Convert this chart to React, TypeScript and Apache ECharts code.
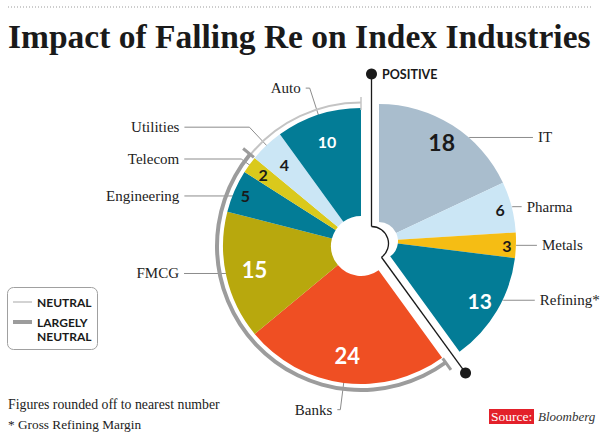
import React, { useEffect, useRef } from 'react';
import * as echarts from 'echarts';

// ---- data ----
const rightCats = ['IT', 'Pharma', 'Metals', 'Refining'];
const rightVals = [18, 6, 3, 13];
const leftCats = ['Banks', 'FMCG', 'Engineering', 'Telecom', 'Utilities', 'Auto'];
const leftVals = [24, 15, 5, 2, 4, 10];
const largelyNeutralCats = ['Banks', 'FMCG', 'Engineering', 'Telecom'];
const neutralCats = ['Utilities', 'Auto'];
const displayNames: Record<string, string> = { Refining: 'Refining*' };

// ---- styles ----
const COLORS: Record<string, string> = {
  IT: '#a9bdcd',
  Pharma: '#cbe6f5',
  Metals: '#f5bd14',
  Refining: '#037c96',
  Banks: '#ef4f23',
  FMCG: '#b8a80d',
  Engineering: '#037c96',
  Telecom: '#dac91c',
  Utilities: '#cbe6f5',
  Auto: '#037c96',
};
// number label: [fontSize, color, radius]
const NUM_STYLE: Record<string, [number, string, number]> = {
  IT: [23, '#1a1a1a', 114],
  Pharma: [16, '#1a1a1a', 122],
  Metals: [16, '#1a1a1a', 125],
  Refining: [21, '#ffffff', 114],
  Banks: [22, '#ffffff', 107],
  FMCG: [22, '#ffffff', 106],
  Engineering: [16, '#1a1a1a', 123],
  Telecom: [16, '#1a1a1a', 118],
  Utilities: [16, '#1a1a1a', 109],
  Auto: [16, '#ffffff', 107],
};
// name leader line: [length, length2]
const NAME_LINE: Record<string, [number, number]> = {
  IT: [1, 80],
  Pharma: [1, 9],
  Metals: [1, 20],
  Refining: [1, 37],
  Banks: [40, 3],
  FMCG: [1, 54],
  Engineering: [1, 61],
  Telecom: [23, 57],
  Utilities: [38, 65],
  Auto: [41, 4],
};
// vertical shift of a right-side name label (line kept horizontal, starting at slice edge)
const LABEL_DY: Record<string, number> = { IT: 13, Refining: -11 };

const LC = [361, 246];
const RC = [379, 241];
const MC = [371.5, 243.5];
const R_OUT_L = 138;
const R_OUT_R = 137;

const sum = (a: number[]) => a.reduce((s, v) => s + v, 0);

export default function App() {
  const ref = useRef<HTMLDivElement>(null);
  useEffect(() => {
    const chart = echarts.init(ref.current!, null, { renderer: 'svg' });
    const rightSum = sum(rightVals);
    const leftSum = sum(leftVals);
    const total = rightSum + leftSum;
    const startDeg = (rightSum / total) * 360; // clockwise from top
    const LEFT_START = 90 - startDeg;
    const RIGHT_START = 90;
    const valOf = (c: string) => leftVals[leftCats.indexOf(c)];
    const lnSum = sum(largelyNeutralCats.map(valOf));
    const nSum = sum(neutralCats.map(valOf));
    const lnDeg = startDeg + (lnSum / total) * 360;

    const pt = (c: number[], deg: number, r: number) => [
      c[0] + r * Math.sin((deg * Math.PI) / 180),
      c[1] - r * Math.cos((deg * Math.PI) / 180),
    ];

    const blank = {
      itemStyle: { color: 'transparent', borderWidth: 0 },
      label: { show: false },
      labelLine: { show: false },
    };

    const groupData = (cats: string[], vals: number[], rest: number, fn: (c: string) => any) => {
      const d: any[] = cats.map((c, i) => ({ name: c, value: vals[i], ...fn(c) }));
      d.push({ name: '_rest', value: rest, ...blank });
      return d;
    };

    const base = {
      type: 'pie',
      silent: true,
      clockwise: true,
      avoidLabelOverlap: false,
      emphasis: { disabled: true },
      itemStyle: { borderWidth: 0 },
    };

    const nameLabel = {
      show: true,
      position: 'outside',
      fontFamily: 'Liberation Serif',
      fontSize: 15,
      color: '#222',
      width: 90,
      overflow: 'none',
      distanceToLabelLine: 5,
    };
    const nameLine = { show: true, smooth: false, lineStyle: { color: '#8c8c8c', width: 1 } };

    const series: any[] = [];

    // arcs: largely neutral (thick) & neutral (thin)
    series.push({
      ...base,
      center: LC,
      radius: [142, 146],
      startAngle: LEFT_START,
      label: { show: false },
      labelLine: { show: false },
      data: [
        { value: lnSum, itemStyle: { color: '#9c9c9c' } },
        { value: nSum, itemStyle: { color: 'transparent' } },
        { value: rightSum, itemStyle: { color: 'transparent' } },
      ],
    });
    series.push({
      ...base,
      center: LC,
      radius: [142.5, 144.5],
      startAngle: LEFT_START,
      label: { show: false },
      labelLine: { show: false },
      data: [
        { value: lnSum, itemStyle: { color: 'transparent' } },
        { value: nSum, itemStyle: { color: '#c4c4c4' } },
        { value: rightSum, itemStyle: { color: 'transparent' } },
      ],
    });

    // visible right group (positive) with outer name labels
    series.push({
      ...base,
      center: RC,
      radius: [19, R_OUT_R],
      startAngle: RIGHT_START,
      label: nameLabel,
      labelLine: nameLine,
      labelLayout: (p: any) => {
        const name = rightCats[p.dataIndex];
        const dy = name ? LABEL_DY[name] : undefined;
        if (!dy || !p.labelLinePoints) return {};
        const pts = p.labelLinePoints;
        const y = pts[2][1] + dy;
        const xEdge = RC[0] + Math.sqrt(R_OUT_R * R_OUT_R - (y - RC[1]) * (y - RC[1]));
        return {
          dy,
          labelLinePoints: [
            [xEdge, y],
            [xEdge + 1, y],
            [pts[2][0], y],
          ],
        };
      },
      data: groupData(rightCats, rightVals, leftSum, (c) => ({
        itemStyle: { color: COLORS[c] },
        label: { formatter: displayNames[c] || c },
        labelLine: { length: NAME_LINE[c][0], length2: NAME_LINE[c][1] },
      })),
    });

    // visible left group
    series.push({
      ...base,
      center: LC,
      radius: [30, R_OUT_L],
      startAngle: LEFT_START,
      label: { show: false },
      labelLine: { show: false },
      data: groupData(leftCats, leftVals, rightSum, (c) => ({ itemStyle: { color: COLORS[c] } })),
    });

    // left group name labels (lines start inside slices)
    series.push({
      ...base,
      center: LC,
      radius: [30, 125],
      startAngle: LEFT_START,
      label: nameLabel,
      labelLine: nameLine,
      data: groupData(leftCats, leftVals, rightSum, (c) => ({
        itemStyle: { color: 'transparent', borderWidth: 0 },
        label: { formatter: displayNames[c] || c },
        labelLine: { length: NAME_LINE[c][0], length2: NAME_LINE[c][1] },
      })),
    });

    // number labels, one ring per category at its own label radius
    const addNumbers = (cats: string[], vals: number[], rest: number, center: number[], start: number) => {
      cats.forEach((target) => {
        const [fs, col, rr] = NUM_STYLE[target];
        series.push({
          ...base,
          z: 5,
          center,
          radius: [rr - 1, rr + 1],
          startAngle: start,
          labelLine: { show: false },
          data: groupData(cats, vals, rest, (c) => ({
            itemStyle: { color: 'transparent', borderWidth: 0 },
            label:
              c === target
                ? {
                    show: true,
                    position: 'inside',
                    formatter: '{c}',
                    fontFamily: 'Lato',
                    fontWeight: 'bold',
                    fontSize: fs,
                    color: col,
                    textBorderWidth: 0,
                  }
                : { show: false },
          })),
        });
      });
    };
    addNumbers(rightCats, rightVals, leftSum, RC, RIGHT_START);
    addNumbers(leftCats, leftVals, rightSum, LC, LEFT_START);

    // decorations
    const tick = (deg: number, r1: number, r2: number, color: string, w: number) => {
      const a = pt(LC, deg, r1);
      const b = pt(LC, deg, r2);
      return {
        type: 'line',
        z: 20,
        shape: { x1: a[0], y1: a[1], x2: b[0], y2: b[1] },
        style: { stroke: color, lineWidth: w },
      };
    };
    const lineR = 17;
    const divA = pt(MC, startDeg, lineR);
    const divB = pt(MC, startDeg, 160);
    const topY = 74;

    const serif = 'Liberation Serif';
    const sans = 'Lato';

    const graphic: any[] = [
      {
        type: 'line',
        shape: { x1: 8, y1: 7, x2: 592, y2: 7 },
        style: { stroke: '#9a9a9a', lineWidth: 1, lineDash: [1, 2] },
      },
      {
        type: 'text',
        x: 8,
        y: 36,
        style: {
          text: 'Impact of Falling Re on Index Industries',
          fontFamily: serif,
          fontWeight: 'bold',
          fontSize: 33.5,
          fill: '#1a1a1a',
          align: 'left',
          verticalAlign: 'middle',
        },
      },
      tick(startDeg, 139, 153, '#9c9c9c', 3),
      tick(lnDeg, 139, 153, '#9c9c9c', 3),
      tick(360, 136, 149, '#c4c4c4', 1.5),
      {
        type: 'line',
        z: 20,
        shape: { x1: MC[0], y1: topY, x2: MC[0], y2: MC[1] - lineR },
        style: { stroke: '#1a1a1a', lineWidth: 1.3 },
      },
      {
        type: 'arc',
        z: 20,
        shape: {
          cx: MC[0],
          cy: MC[1],
          r: lineR,
          startAngle: -Math.PI / 2,
          endAngle: ((startDeg - 90) * Math.PI) / 180,
          clockwise: true,
        },
        style: { stroke: '#1a1a1a', lineWidth: 1.3, fill: null },
      },
      {
        type: 'line',
        z: 20,
        shape: { x1: divA[0], y1: divA[1], x2: divB[0], y2: divB[1] },
        style: { stroke: '#1a1a1a', lineWidth: 1.3 },
      },
      { type: 'circle', z: 21, shape: { cx: MC[0], cy: topY, r: 5.5 }, style: { fill: '#1a1a1a' } },
      { type: 'circle', z: 21, shape: { cx: divB[0], cy: divB[1], r: 5.5 }, style: { fill: '#1a1a1a' } },
      {
        type: 'text',
        x: 382,
        y: 74,
        style: {
          text: 'POSITIVE',
          fontFamily: sans,
          fontWeight: 'bold',
          fontSize: 12.5,
          fill: '#1a1a1a',
          align: 'left',
          verticalAlign: 'middle',
        },
      },
      // legend box
      {
        type: 'rect',
        shape: { x: 7.5, y: 287.5, width: 90, height: 62, r: 6 },
        style: { fill: '#fff', stroke: '#a0a0a0', lineWidth: 1 },
      },
      { type: 'line', shape: { x1: 13, y1: 302, x2: 32, y2: 302 }, style: { stroke: '#c4c4c4', lineWidth: 1.5 } },
      { type: 'line', shape: { x1: 13, y1: 322, x2: 32, y2: 322 }, style: { stroke: '#9c9c9c', lineWidth: 4 } },
      {
        type: 'text',
        x: 37,
        y: 302,
        style: { text: 'NEUTRAL', fontFamily: sans, fontWeight: 'bold', fontSize: 12, fill: '#1a1a1a', verticalAlign: 'middle' },
      },
      {
        type: 'text',
        x: 37,
        y: 322,
        style: { text: 'LARGELY', fontFamily: sans, fontWeight: 'bold', fontSize: 12, fill: '#1a1a1a', verticalAlign: 'middle' },
      },
      {
        type: 'text',
        x: 37,
        y: 336,
        style: { text: 'NEUTRAL', fontFamily: sans, fontWeight: 'bold', fontSize: 12, fill: '#1a1a1a', verticalAlign: 'middle' },
      },
      // footnotes
      {
        type: 'text',
        x: 8,
        y: 404,
        style: { text: 'Figures rounded off to nearest number', fontFamily: serif, fontSize: 13.8, fill: '#222', verticalAlign: 'middle' },
      },
      {
        type: 'text',
        x: 8,
        y: 424,
        style: { text: '* Gross Refining Margin', fontFamily: serif, fontSize: 13.3, fill: '#222', verticalAlign: 'middle' },
      },
      // source
      { type: 'rect', shape: { x: 489, y: 409, width: 45, height: 15 }, style: { fill: '#e3202a' } },
      {
        type: 'text',
        x: 491,
        y: 416.5,
        style: { text: 'Source:', fontFamily: serif, fontSize: 13.5, fill: '#fff', verticalAlign: 'middle' },
      },
      {
        type: 'text',
        x: 538,
        y: 416.5,
        style: { text: 'Bloomberg', fontFamily: serif, fontStyle: 'italic', fontSize: 13, fill: '#333', verticalAlign: 'middle' },
      },
    ];

    chart.setOption({
      animation: false,
      backgroundColor: '#ffffff',
      series,
      graphic,
    });
    return () => chart.dispose();
  }, []);
  return (
    <div
      ref={ref}
      style={{ position: 'absolute', left: 0, top: 0, width: 600, height: 437, background: '#fff' }}
    />
  );
}
